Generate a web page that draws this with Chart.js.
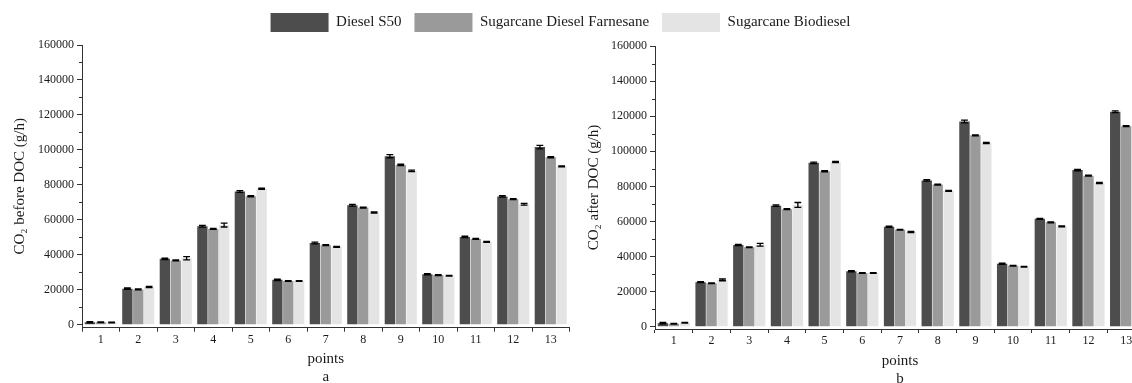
<!DOCTYPE html>
<html><head><meta charset="utf-8">
<script src="https://cdn.jsdelivr.net/npm/chart.js@4.4.1/dist/chart.umd.min.js"></script>
<style>
html,body{margin:0;padding:0;width:1132px;height:383px;overflow:hidden;background:#fff;}
#wa{position:absolute;left:0;top:0;width:1114px;height:387px;}
#wb{position:absolute;left:570px;top:0;width:600px;height:389px;}
</style></head><body>
<div id="wa"><canvas id="ca"></canvas></div>
<div id="wb"><canvas id="cb"></canvas></div>
<script>
const points = ['1','2','3','4','5','6','7','8','9','10','11','12','13'];
const seriesNames = ['Diesel S50', 'Sugarcane Diesel Farnesane', 'Sugarcane Biodiesel'];
const seriesColors = ['#4d4d4d', '#9a9a9a', '#e4e4e4'];
const yTickValues = [0, 20000, 40000, 60000, 80000, 100000, 120000, 140000, 160000];
const yMinorTickValues = [10000, 30000, 50000, 70000, 90000, 110000, 130000, 150000];

const beforeDiesel    = [1400, 20600, 37700, 56300, 76200, 25700, 46800, 68300, 96400, 28900, 50200, 73400, 101600];
const beforeFarnesane = [1400, 20200, 36800, 54800, 73500, 25000, 45500, 67000, 91400, 28400, 49100, 71800, 95800];
const beforeBiodiesel = [1300, 21600, 38000, 57000, 77800, 25000, 44500, 64200, 88000, 28000, 47400, 68900, 90600];
const beforeDieselErr    = [300, 400, 400, 500, 500, 400, 500, 500, 900, 300, 400, 400, 1000];
const beforeFarnesaneErr = [200, 300, 300, 300, 300, 200, 300, 300, 400, 300, 300, 300, 300];
const beforeBiodieselErr = [200, 300, 900, 1100, 300, 200, 300, 300, 400, 200, 300, 500, 300];

const afterDiesel    = [2000, 25400, 46600, 69000, 93400, 31600, 57000, 83400, 117000, 35900, 61500, 89300, 122500];
const afterFarnesane = [1700, 24800, 45300, 67000, 88600, 30600, 55200, 81000, 109100, 34800, 59500, 86100, 114300];
const afterBiodiesel = [2200, 26700, 46700, 69400, 93900, 30600, 54000, 77400, 104700, 34200, 57200, 81900, 108000];
const afterDieselErr    = [400, 300, 300, 400, 400, 300, 300, 400, 800, 300, 300, 400, 500];
const afterFarnesaneErr = [200, 200, 200, 300, 300, 200, 200, 300, 300, 200, 300, 300, 300];
const afterBiodieselErr = [200, 500, 800, 1400, 300, 200, 300, 300, 300, 200, 300, 300, 300];

const FONT = "'Liberation Serif', 'Times New Roman', serif";
const AXIS = '#333333';
const TEXT = '#1a1a1a';

const errorBarPlugin = {
  id: 'errorBars',
  afterDatasetsDraw(chart) {
    const ctx = chart.ctx, ys = chart.scales.y;
    chart.data.datasets.forEach((ds, di) => {
      const meta = chart.getDatasetMeta(di);
      meta.data.forEach((bar, i) => {
        const v = ds.data[i], e = ds.errorBars[i];
        if (v == null) return;
        const top = ys.getPixelForValue(v + e), bot = ys.getPixelForValue(v - e);
        const half = bar.width * 0.33;
        ctx.save();
        ctx.strokeStyle = '#000';
        ctx.lineWidth = 1.3;
        ctx.beginPath();
        ctx.moveTo(bar.x, top); ctx.lineTo(bar.x, bot);
        ctx.moveTo(bar.x - half, top); ctx.lineTo(bar.x + half, top);
        ctx.moveTo(bar.x - half, bot); ctx.lineTo(bar.x + half, bot);
        ctx.stroke();
        ctx.restore();
      });
    });
  }
};

const minorTickPlugin = {
  id: 'minorTicks',
  afterDraw(chart) {
    const ctx = chart.ctx, ys = chart.scales.y;
    ctx.save();
    ctx.strokeStyle = AXIS;
    ctx.lineWidth = 1;
    ctx.beginPath();
    yMinorTickValues.forEach(v => {
      const y = Math.round(ys.getPixelForValue(v)) + 0.5;
      ctx.moveTo(ys.right - 3, y); ctx.lineTo(ys.right, y);
    });
    ctx.stroke();
    ctx.restore();
  }
};

function makeChart(id, vals, errs, o) {
  const datasets = seriesNames.map((name, k) => ({
    label: name,
    data: vals[k],
    errorBars: errs[k],
    backgroundColor: seriesColors[k],
    borderWidth: 0,
    categoryPercentage: 0.87,
    barPercentage: 0.95
  }));
  const scales = {
    x: {
      type: 'category',
      offset: true,
      grid: { display: true, drawOnChartArea: false, drawTicks: true, tickLength: 4, color: AXIS },
      border: { display: true, color: AXIS, width: 1 },
      ticks: { font: { family: FONT, size: 12 }, color: TEXT, padding: 1, maxRotation: 0, autoSkip: false },
      title: { display: true, text: ['points', o.letter], font: { family: FONT, size: 15, lineHeight: 1.2 }, color: TEXT, padding: { top: 0, bottom: 1 } },
      afterFit(s) { s.height = o.xHeight; }
    },
    y: {
      type: 'linear',
      min: o.yMin,
      max: 160000,
      afterBuildTicks(s) { s.ticks = yTickValues.map(v => ({ value: v })); },
      grid: { display: true, drawOnChartArea: false, drawTicks: true, tickLength: 5, color: AXIS },
      border: { display: true, color: AXIS, width: 1 },
      ticks: { font: { family: FONT, size: 12 }, color: TEXT, padding: 3, callback: v => String(v) },
      title: { display: true, text: o.yTitle, font: { family: FONT, size: 15 }, color: TEXT, padding: { top: 4, bottom: 4 } },
      afterFit(s) { s.width = o.yWidth; }
    }
  };
  if (o.legend) {
    scales.yr = {
      type: 'linear', position: 'right', display: true,
      grid: { display: false }, border: { display: false }, ticks: { display: false },
      afterFit(s) { s.width = o.rightWidth; }
    };
    scales.xt = {
      type: 'linear', position: 'top', display: true,
      grid: { display: false }, border: { display: false }, ticks: { display: false },
      afterFit(s) { s.height = 3; }
    };
  }
  return new Chart(document.getElementById(id), {
    type: 'bar',
    data: { labels: points, datasets },
    options: {
      responsive: true,
      maintainAspectRatio: false,
      animation: false,
      layout: { padding: o.padding },
      plugins: {
        legend: {
          display: !!o.legend,
          position: 'top',
          align: 'center',
          labels: { boxWidth: 58, boxHeight: 19, padding: 13, color: TEXT, font: { family: FONT, size: 15 } }
        },
        tooltip: { enabled: false }
      },
      scales
    },
    plugins: [errorBarPlugin, minorTickPlugin]
  });
}

makeChart('ca',
  [beforeDiesel, beforeFarnesane, beforeBiodiesel],
  [beforeDieselErr, beforeFarnesaneErr, beforeBiodieselErr],
  { letter: 'a', yTitle: 'CO\u2082 before DOC (g/h)', yMin: -1700, xHeight: 59.3, yWidth: 75, rightWidth: 1114 - 569.5,
    legend: true, padding: { left: 7, right: 0, top: 0, bottom: 0 } });

makeChart('cb',
  [afterDiesel, afterFarnesane, afterBiodiesel],
  [afterDieselErr, afterFarnesaneErr, afterBiodieselErr],
  { letter: 'b', yTitle: 'CO\u2082 after DOC (g/h)', yMin: -1300, xHeight: 60, yWidth: 73.5,
    legend: false, padding: { left: 11.5, right: 25, top: 46, bottom: 0 } });
</script>
</body></html>
